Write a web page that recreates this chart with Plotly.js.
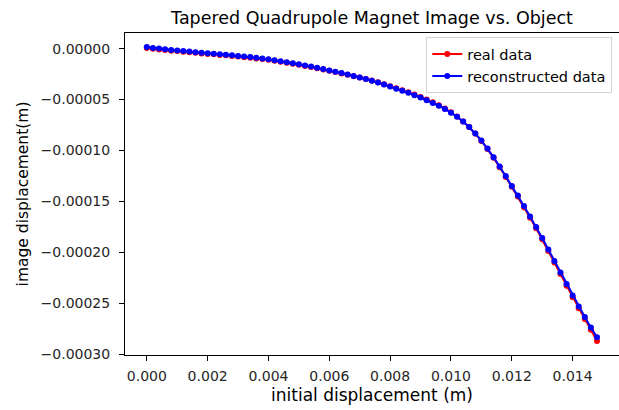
<!DOCTYPE html>
<html><head><meta charset="utf-8">
<script src="https://cdn.plot.ly/plotly-3.0.1.min.js"></script>
<style>html,body{margin:0;padding:0;overflow:hidden;background:#fff}</style>
</head><body><div id="chart" style="width:619px;height:410px"></div>
<script>
// initial displacement in mm
const initialDisplacementMm = [
 0.0, 0.2, 0.4, 0.6, 0.8, 1.0, 1.2, 1.4, 1.6, 1.8,
 2.0, 2.2, 2.4, 2.6, 2.8, 3.0, 3.2, 3.4, 3.6, 3.8,
 4.0, 4.2, 4.4, 4.6, 4.8, 5.0, 5.2, 5.4, 5.6, 5.8,
 6.0, 6.2, 6.4, 6.6, 6.8, 7.0, 7.2, 7.4, 7.6, 7.8,
 8.0, 8.2, 8.4, 8.6, 8.8, 9.0, 9.2, 9.4, 9.6, 9.8,
 10.0, 10.2, 10.4, 10.6, 10.8, 11.0, 11.2, 11.4, 11.6, 11.8,
 12.0, 12.2, 12.4, 12.6, 12.8, 13.0, 13.2, 13.4, 13.6, 13.8,
 14.0, 14.2, 14.4, 14.6, 14.8];
// image displacement in micrometres
const realDataUm = [
 0.5, -0.2, -0.8, -1.3, -2.0, -2.4, -3.1, -3.6, -4.0, -4.7,
 -5.2, -5.6, -6.3, -6.6, -7.3, -7.8, -8.5, -8.9, -9.7, -10.2,
 -11.0, -11.9, -12.9, -13.8, -14.9, -15.9, -17.0, -18.1, -19.3, -20.5,
 -21.8, -23.0, -24.3, -25.6, -27.0, -28.4, -29.9, -31.4, -33.1, -35.0,
 -36.9, -39.0, -40.9, -42.9, -45.1, -47.4, -50.0, -52.7, -55.6, -58.7,
 -62.4, -66.6, -71.4, -76.9, -83.3, -90.5, -98.5, -107.1, -116.3, -125.9,
 -135.6, -145.1, -155.5, -165.8, -176.2, -187.1, -198.4, -209.8, -221.1, -232.5,
 -243.8, -254.7, -265.2, -275.8, -286.7];
const reconstructedDataUm = [
 1.47, 0.69, 0.00, -0.69, -1.28, -1.86, -2.45, -2.94, -3.53, -4.02,
 -4.51, -5.00, -5.50, -5.99, -6.57, -7.16, -7.75, -8.34, -8.93, -9.62,
 -10.50, -11.35, -12.36, -13.35, -14.33, -15.41, -16.49, -17.66, -18.84, -20.12,
 -21.39, -22.67, -24.04, -25.42, -26.89, -28.36, -29.93, -31.60, -33.36, -35.33,
 -37.29, -39.45, -41.41, -43.37, -45.63, -47.99, -50.54, -53.29, -56.13, -59.17,
 -62.80, -66.90, -71.60, -77.00, -83.20, -90.20, -98.00, -106.50, -115.60, -125.00,
 -134.64, -143.96, -154.26, -164.56, -174.87, -185.66, -196.95, -208.23, -219.52, -230.80,
 -242.09, -252.88, -263.18, -273.49, -283.01];
const seriesNames = ["real data", "reconstructed data"];
const xTicks = [0, 0.002, 0.004, 0.006, 0.008, 0.010, 0.012, 0.014];
const yTicks = [0, -0.00005, -0.0001, -0.00015, -0.0002, -0.00025, -0.0003];

const x = initialDisplacementMm.map(v => v * 1e-3);
const yReal = realDataUm.map(v => v * 1e-6);
const yRec = reconstructedDataUm.map(v => v * 1e-6);

const font = "DejaVu Sans, Liberation Sans, sans-serif";
const traces = [
  {x: x, y: yReal, name: seriesNames[0], type: "scatter", mode: "lines+markers",
   line: {color: "#ff0000", width: 2}, marker: {color: "#ff0000", size: 6}},
  {x: x, y: yRec, name: seriesNames[1], type: "scatter", mode: "lines+markers",
   line: {color: "#0000ff", width: 2}, marker: {color: "#0000ff", size: 6}}
];
const axisCommon = {
  showgrid: false, zeroline: false, showline: true, linecolor: "#000", linewidth: 1,
  ticks: "outside", ticklen: 5, tickwidth: 1, tickcolor: "#000",
  tickfont: {family: font, size: 14, color: "#262626"}
};
const layout = {
  width: 619, height: 410,
  margin: {l: 125, r: 0, t: 33, b: 55},
  paper_bgcolor: "#fff", plot_bgcolor: "#fff",
  showlegend: true,
  title: {text: "Tapered Quadrupole Magnet Image vs. Object", x: 0.5, xref: "paper",
          y: 1 - 18/410, yref: "container", yanchor: "middle", xanchor: "center",
          font: {family: font, size: 17.5, color: "#000"}},
  xaxis: Object.assign({}, axisCommon, {
    range: [-0.0007175, 0.015524], tickvals: xTicks, tickformat: ".3f", mirror: true,
    ticklabelstandoff: 3,
    title: {text: "initial displacement (m)", font: {family: font, size: 17, color: "#000"}, standoff: 6}
  }),
  yaxis: Object.assign({}, axisCommon, {
    range: [-0.0003005, 0.0000153], tickvals: yTicks, tickformat: ".5f", mirror: false,
    ticklabelstandoff: 6,
    title: {text: "image displacement(m)", font: {family: font, size: 15.5, color: "#000"}, standoff: 8}
  }),
  legend: {x: 0.9864, xanchor: "right", y: 0.987, yanchor: "top",
           bgcolor: "rgba(255,255,255,0.8)", bordercolor: "#d4d4d4", borderwidth: 1,
           font: {family: font, size: 14.5, color: "#000"}}
};
Plotly.newPlot("chart", traces, layout, {displayModeBar: false, staticPlot: true});
</script></body></html>
